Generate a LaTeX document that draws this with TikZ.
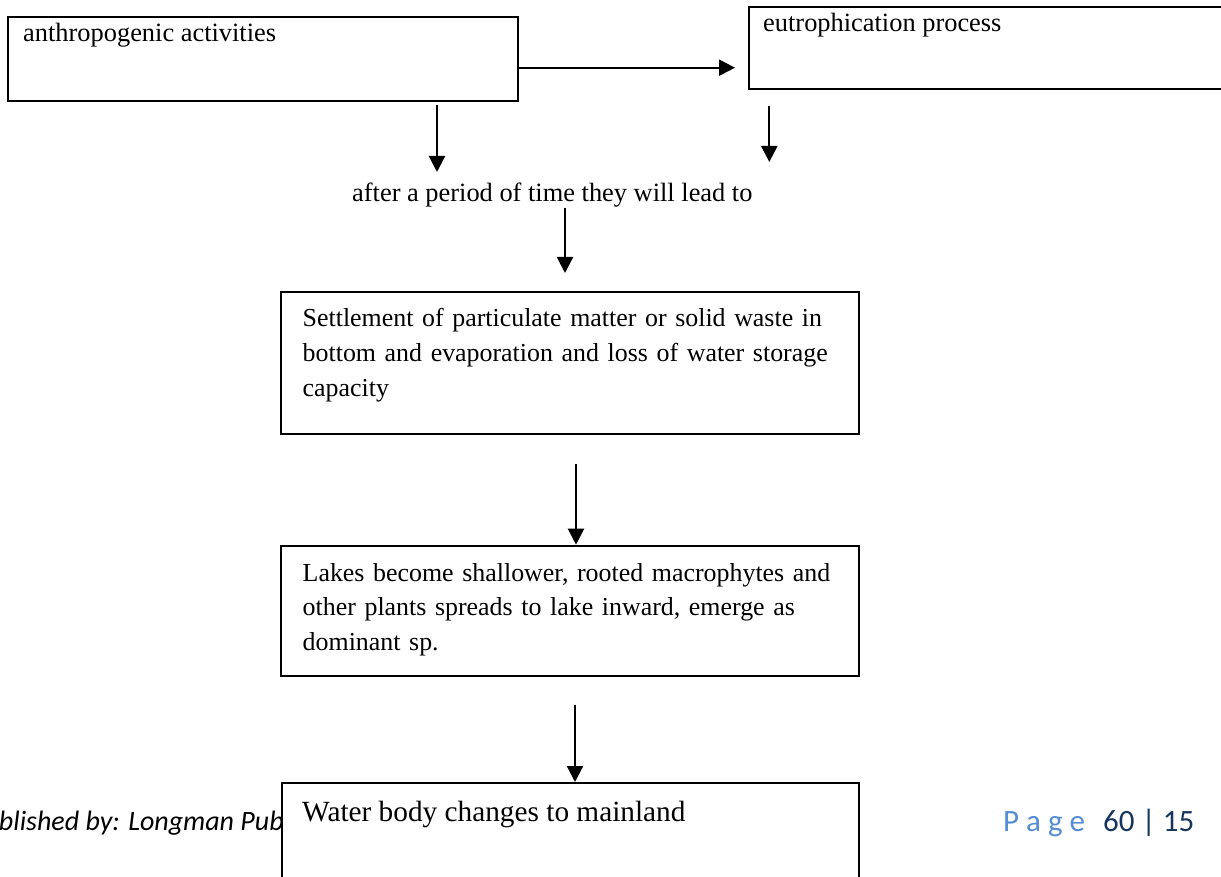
\documentclass[tikz,border=0pt]{standalone}
\usepackage{fontspec}
\setmainfont{Liberation Serif}
\newfontfamily\calib{Carlito}
\usetikzlibrary{arrows.meta}
\definecolor{pglight}{RGB}{84,141,212}
\definecolor{pgdark}{RGB}{23,54,93}
\begin{document}
\begin{tikzpicture}[x=1pt,y=-1pt,
  boxstyle/.style={draw=black,line width=2pt,rectangle,inner sep=0pt,fill=white},
  txt/.style={inner sep=0pt,anchor=base west,align=left,font=\fontsize{26.4pt}{35pt}\selectfont},
  boxtxt/.style={inner sep=0pt,anchor=base west,text width=570pt,font=\fontsize{25.9pt}{35pt}\selectfont\raggedright},
  arr/.style={line width=2.2pt,-{Triangle[length=16pt,width=16pt]}}]
\useasboundingbox (0,0) rectangle (1221,877);
% footer left
\node[inner sep=0pt,anchor=base east,font=\calib\itshape\fontsize{28pt}{32pt}\selectfont] (pub) at (284,830) {blished by: Longman Pub};
% boxes
\node[boxstyle,minimum width=510.5pt,minimum height=84pt] (b1) at (262.75,59.5) {};
\node[boxstyle,minimum width=481pt,minimum height=82.8pt] (b2) at (989.5,48.1) {};
\node[boxstyle,minimum width=578pt,minimum height=142.3pt] (b3) at (570,362.85) {};
\node[boxstyle,minimum width=578pt,minimum height=130.3pt] (b4) at (570,610.85) {};
\node[boxstyle,minimum width=577pt,minimum height=117pt] (b5) at (570.5,841.5) {};
% texts
\node[txt] (t1) at (23,41.7) {anthropogenic activities};
\node[txt] (t2) at (763,31.7) {eutrophication process};
\node[txt] (lead) at (352,201.7) {after a period of time they will lead to};
\node[boxtxt] (t3) at (302.5,326.7) {Settlement of particulate matter or solid waste in\\bottom and evaporation and loss of water storage\\capacity};
\node[boxtxt,font=\fontsize{25.9pt}{34.2pt}\selectfont\raggedright] (t4) at (302.5,581.7) {Lakes become shallower, rooted macrophytes and\\other plants spreads to lake inward, emerge as\\dominant sp.};
\node[txt,font=\fontsize{29.3pt}{35pt}\selectfont] (t5) at (302,821) {Water body changes to mainland};
% footer right
\node[inner sep=0pt,anchor=base west,font=\calib\fontsize{31pt}{36pt}\selectfont] (page) at (1003,831.7) {\textcolor{pglight}{P a g e}\hspace{11pt} \textcolor{pgdark}{60 | 15}};
% arrow end coordinates
\coordinate (a1e) at (735,67.7);
\coordinate (a2e) at (437,172);
\coordinate (a3s) at (769.3,106);
\coordinate (a3e) at (769.3,162);
\coordinate (a4s) at (565,208);
\coordinate (a4e) at (565,273);
\coordinate (a5s) at (576,464);
\coordinate (a6s) at (575,705);
% arrows
\draw[arr] (b1.east |- a1e) -- (a1e);
\draw[arr] ([yshift=-2.5pt]b1.south -| a2e) -- (a2e);
\draw[arr] (a3s) -- (a3e);
\draw[arr] (a4s) -- (a4e);
\draw[arr] (a5s) -- (a5s |- b4.north);
\draw[arr] (a6s) -- (a6s |- b5.north);
\end{tikzpicture}
\end{document}
